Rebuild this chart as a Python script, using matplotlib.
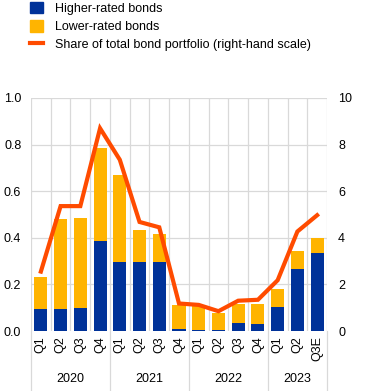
import matplotlib
matplotlib.use("Agg")
import matplotlib.pyplot as plt
from matplotlib.patches import Patch
from matplotlib.lines import Line2D
import numpy as np

plt.rcParams['font.family'] = ['Liberation Sans', 'DejaVu Sans']

quarters = ["Q1", "Q2", "Q3", "Q4", "Q1", "Q2", "Q3", "Q4", "Q1", "Q2", "Q3", "Q4", "Q1", "Q2", "Q3E"]
years = ["2020", "2021", "2022", "2023"]
year_counts = [4, 4, 4, 3]
higher = [0.095, 0.095, 0.10, 0.385, 0.295, 0.295, 0.295, 0.008, 0.005, 0.003, 0.035, 0.030, 0.105, 0.267, 0.333]
total = [0.23, 0.48, 0.485, 0.787, 0.67, 0.432, 0.415, 0.113, 0.106, 0.078, 0.114, 0.117, 0.182, 0.344, 0.399]
lower = [t - h for t, h in zip(total, higher)]
share = [2.55, 5.36, 5.36, 8.7, 7.35, 4.68, 4.45, 1.18, 1.12, 0.85, 1.3, 1.34, 2.18, 4.27, 4.97]

BLUE = "#003299"
YELLOW = "#FFB400"
ORANGE = "#FF4B00"

W, H = 366, 391
fig = plt.figure(figsize=(W / 100, H / 100), dpi=100)
ax = fig.add_axes([31 / W, 1 - 331 / H, (327 - 31) / W, (331 - 98) / H])
x = np.arange(len(quarters))

ax.bar(x, higher, width=0.66, color=BLUE, zorder=3)
ax.bar(x, lower, bottom=higher, width=0.66, color=YELLOW, zorder=3)
ax.set_ylim(0, 1.0)
ax.set_xlim(-0.5, len(quarters) - 0.5)
ax.set_yticks(np.arange(0, 1.01, 0.2))
ax.set_yticklabels([f"{v:.1f}" for v in np.arange(0, 1.01, 0.2)], fontsize=9)

for b in np.arange(-0.5, len(quarters), 1.0):
    ax.axvline(b, color="#d9d9d9", lw=0.9, zorder=0)
for yv in np.arange(0.2, 1.01, 0.2):
    ax.axhline(yv, color="#d9d9d9", lw=0.9, zorder=0)

for s in ax.spines.values():
    s.set_visible(False)
ax.tick_params(axis="y", length=0, pad=7, labelsize=9)
ax.tick_params(axis="x", length=0, pad=4)
ax.set_xticks(x)
ax.set_xticklabels(quarters, rotation=90, fontsize=9)

ax2 = ax.twinx()
ax2.plot(x, share, color=ORANGE, lw=3, zorder=5, solid_joinstyle="miter")
ax2.set_ylim(0, 10)
ax2.set_yticks(np.arange(0, 10.1, 2))
ax2.tick_params(axis="y", length=0, pad=8, labelsize=9)
for s in ax2.spines.values():
    s.set_visible(False)

# year separators and labels
bounds = [0]
for c in year_counts:
    bounds.append(bounds[-1] + c)
for b in bounds:
    ax.plot([b - 0.5, b - 0.5], [0, -0.29], color="#d9d9d9", lw=0.9, clip_on=False, zorder=0)
for i, yr in enumerate(years):
    mid = (bounds[i] + bounds[i + 1]) / 2 - 0.5
    ax.text(mid, -0.205, yr, ha="center", va="center", fontsize=9,
            transform=ax.transData)

handles = [Patch(color=BLUE, label="Higher-rated bonds"),
           Patch(color=YELLOW, label="Lower-rated bonds"),
           Line2D([0], [0], color=ORANGE, lw=3, label="Share of total bond portfolio (right-hand scale)")]
fig.legend(handles=handles, loc="upper left", bbox_to_anchor=(29 / W, 1 - 1 / H), frameon=False,
           fontsize=9, handlelength=1.0, handleheight=1.0, handletextpad=1.0,
           labelspacing=0.42, borderaxespad=0.0, borderpad=0.1)

fig.savefig("out.png", dpi=100)
